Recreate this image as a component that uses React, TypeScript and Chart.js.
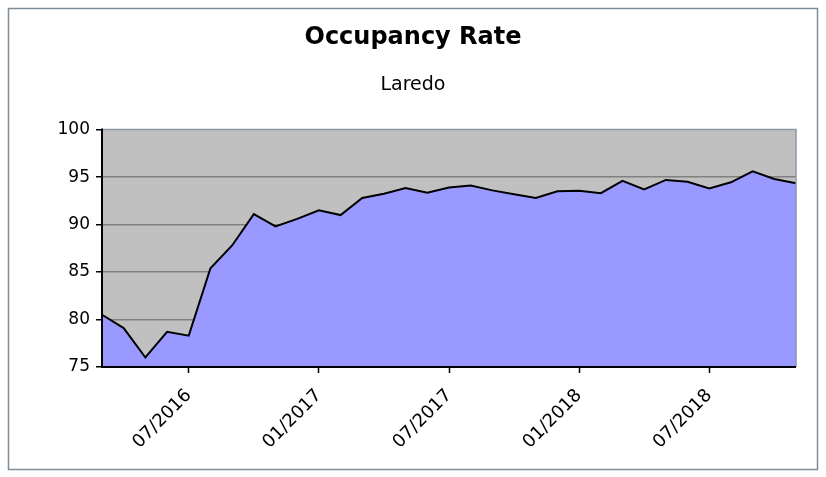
import React, { useEffect, useRef } from "react";
import { Chart, registerables } from "chart.js";

Chart.register(...registerables);

const months: string[] = [
  "03/2016", "04/2016", "05/2016", "06/2016", "07/2016", "08/2016", "09/2016", "10/2016", "11/2016", "12/2016",
  "01/2017", "02/2017", "03/2017", "04/2017", "05/2017", "06/2017", "07/2017", "08/2017", "09/2017", "10/2017",
  "11/2017", "12/2017", "01/2018", "02/2018", "03/2018", "04/2018", "05/2018", "06/2018", "07/2018", "08/2018",
  "09/2018", "10/2018", "11/2018",
];

const occupancy: number[] = [
  80.5, 79.1, 76.0, 78.7, 78.3, 85.4, 87.8, 91.1, 89.8, 90.6,
  91.5, 91.0, 92.8, 93.25, 93.85, 93.35, 93.9, 94.1, 93.6, 93.2,
  92.8, 93.5, 93.55, 93.3, 94.6, 93.7, 94.7, 94.5, 93.8, 94.45,
  95.6, 94.8, 94.35,
];

const yTicks: number[] = [75, 80, 85, 90, 95, 100];
const labeledMonths: string[] = ["07/2016", "01/2017", "07/2017", "01/2018", "07/2018"];

const TITLE = "Occupancy Rate";
const SUBTITLE = "Laredo";

const framePlugin = {
  id: "framePlugin",
  beforeDraw(chart: any) {
    const { ctx, chartArea } = chart;
    ctx.save();
    ctx.fillStyle = "#ffffff";
    ctx.fillRect(0, 0, chart.width, chart.height);
    ctx.strokeStyle = "#7f8c99";
    ctx.lineWidth = 1.5;
    ctx.strokeRect(8.5, 8.5, chart.width - 17, chart.height - 16);
    ctx.fillStyle = "#c0c0c0";
    ctx.fillRect(chartArea.left, chartArea.top, chartArea.right - chartArea.left, chartArea.bottom - chartArea.top);
    ctx.restore();
  },
  afterDatasetsDraw(chart: any) {
    const { ctx, chartArea } = chart;
    ctx.save();
    ctx.strokeStyle = "#8a97a6";
    ctx.lineWidth = 1.5;
    ctx.beginPath();
    ctx.moveTo(chartArea.left, chartArea.top);
    ctx.lineTo(chartArea.right, chartArea.top);
    ctx.lineTo(chartArea.right, chartArea.bottom);
    ctx.stroke();
    ctx.strokeStyle = "#000000";
    ctx.lineWidth = 2;
    ctx.beginPath();
    ctx.moveTo(chartArea.left, chartArea.top - 1);
    ctx.lineTo(chartArea.left, chartArea.bottom);
    ctx.lineTo(chartArea.right, chartArea.bottom);
    ctx.stroke();
    ctx.restore();
  },
};

export default function App() {
  const ref = useRef<HTMLCanvasElement>(null);
  useEffect(() => {
    if (!ref.current) return;
    const chart = new Chart(ref.current, {
      type: "line",
      data: {
        labels: months,
        datasets: [
          {
            data: occupancy,
            borderColor: "#000000",
            borderWidth: 2,
            backgroundColor: "#9999ff",
            fill: "start",
            pointRadius: 0,
            tension: 0,
          },
        ],
      },
      options: {
        animation: false,
        responsive: false,
        devicePixelRatio: 1,
        layout: { padding: { left: 30, right: 30, top: 0, bottom: 10 } },
        plugins: {
          legend: { display: false },
          tooltip: { enabled: false },
          title: {
            display: true,
            text: TITLE,
            color: "#000000",
            font: { family: "DejaVu Sans", size: 24, weight: "bold" },
            padding: { top: 23, bottom: 0 },
          },
          subtitle: {
            display: true,
            text: SUBTITLE,
            color: "#000000",
            font: { family: "DejaVu Sans", size: 19, weight: "normal" },
            padding: { top: 21.8, bottom: 33.2 },
          },
        },
        scales: {
          x: {
            type: "category",
            offset: false,
            afterBuildTicks(scale: any) {
              scale.ticks = scale.ticks.filter((t: any) => labeledMonths.includes(months[t.value]));
            },
            afterFit(scale: any) {
              scale.height = 100;
            },
            ticks: {
              autoSkip: false,
              minRotation: 45,
              maxRotation: 45,
              color: "#000000",
              padding: 12,
              font: { family: "DejaVu Sans", size: 18 },
              callback(value: any) {
                return months[value as number];
              },
            },
            grid: {
              drawOnChartArea: false,
              drawTicks: true,
              tickLength: 6,
              tickColor: "#000000",
              tickWidth: 1.5,
            },
            border: { display: false },
          },
          y: {
            min: 75,
            max: 100,
            afterBuildTicks(scale: any) {
              scale.ticks = yTicks.map((v) => ({ value: v }));
            },
            afterFit(scale: any) {
              scale.width = 72;
            },
            ticks: {
              color: "#000000",
              padding: 6,
              font: { family: "DejaVu Sans", size: 17 },
            },
            grid: {
              color: (c: any) => (c.tick && (c.tick.value === 75 || c.tick.value === 100) ? "rgba(0,0,0,0)" : "#808080"),
              lineWidth: 1.5,
              tickLength: 6,
              tickColor: "#000000",
              tickWidth: 1.5,
            },
            border: { display: false },
          },
        },
      },
      plugins: [framePlugin],
    });
    return () => chart.destroy();
  }, []);
  return (
    <div style={{ position: "absolute", left: 0, top: 0, width: 826, height: 477 }}>
      <canvas ref={ref} width={826} height={477} style={{ width: 826, height: 477 }} />
    </div>
  );
}
